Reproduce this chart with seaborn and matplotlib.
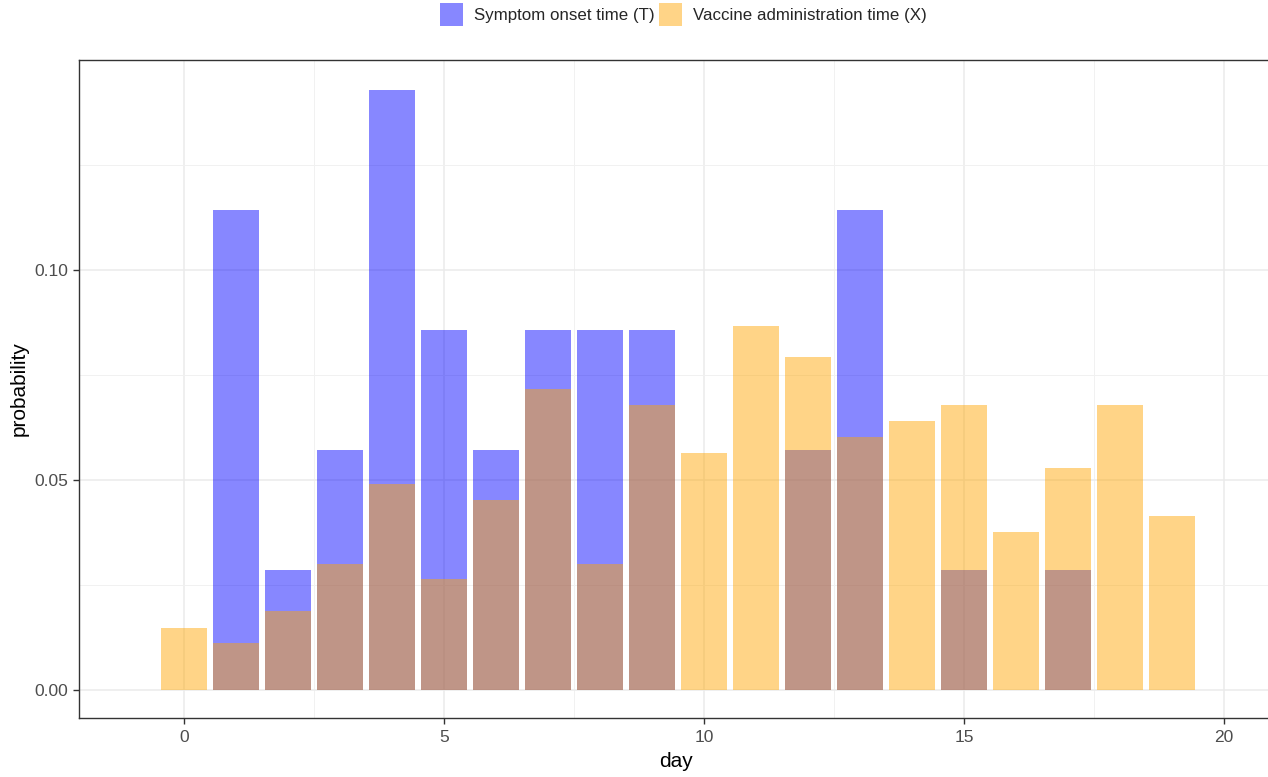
import matplotlib
matplotlib.use("Agg")
import matplotlib.pyplot as plt
import seaborn as sns
import pandas as pd
from matplotlib.patches import Patch
from matplotlib.ticker import MultipleLocator

# Data
days_T = [1, 2, 3, 4, 5, 6, 7, 8, 9, 12, 13, 15, 17]
prob_T = [0.1143, 0.0286, 0.0571, 0.1429, 0.0857, 0.0571, 0.0857, 0.0857,
          0.0857, 0.0571, 0.1143, 0.0286, 0.0286]

days_X = list(range(0, 20))
prob_X = [0.0148, 0.0112, 0.0188, 0.0300, 0.0490, 0.0264, 0.0452, 0.0717,
          0.0300, 0.0679, 0.0564, 0.0867, 0.0793, 0.0602, 0.0640, 0.0679,
          0.0376, 0.0529, 0.0679, 0.0414]

label_T = "Symptom onset time (T)"
label_X = "Vaccine administration time (X)"
color_T = "blue"
color_X = "orange"
alpha = 0.47

sns.set_theme(style="white")
plt.rcParams["font.family"] = ["Liberation Sans", "DejaVu Sans"]

fig = plt.figure(figsize=(12.68, 7.77), dpi=100)
ax = fig.add_axes([79 / 1268, 59 / 777, (1272 - 79) / 1268, (718 - 60) / 777])

df_T = pd.DataFrame({"day": days_T, "probability": prob_T})
df_X = pd.DataFrame({"day": days_X, "probability": prob_X})

sns.barplot(data=df_T, x="day", y="probability", native_scale=True, width=0.9,
            color=color_T, alpha=alpha, saturation=1, ax=ax, zorder=3)
sns.barplot(data=df_X, x="day", y="probability", native_scale=True, width=0.9,
            color=color_X, alpha=alpha, saturation=1, ax=ax, zorder=3)
for p in ax.patches:
    p.set_edgecolor("none")
    p.set_linewidth(0)

ax.set_xlim(-2.02, (1272 - 184) / 52)
ax.set_ylim(-0.00667, 0.15)

ax.xaxis.set_major_locator(MultipleLocator(5))
ax.xaxis.set_minor_locator(MultipleLocator(2.5))
ax.yaxis.set_major_locator(MultipleLocator(0.05))
ax.yaxis.set_minor_locator(MultipleLocator(0.025))
ax.set_yticks([0, 0.05, 0.10])
ax.set_yticklabels(["0.00", "0.05", "0.10"])
ax.set_xticks([0, 5, 10, 15, 20])
ax.set_xticklabels(["0", "5", "10", "15", "20"])

ax.grid(which="major", color="#EBEBEB", linewidth=1.1, zorder=0)
ax.grid(which="minor", color="#F1F1F1", linewidth=0.7, zorder=0)
ax.set_axisbelow(True)

for s in ax.spines.values():
    s.set_color("#333333")
    s.set_linewidth(1.0)
    s.set_visible(True)

ax.tick_params(which="major", length=4, width=1, color="#333333",
               labelsize=12.5, labelcolor="#4D4D4D", pad=3,
               bottom=True, left=True)
ax.tick_params(axis="x", which="major", pad=5)
ax.tick_params(axis="y", which="major", pad=4)
ax.tick_params(which="minor", length=0)

ax.set_xlabel("day", fontsize=15, color="black", labelpad=5)
ax.set_ylabel("probability", fontsize=15, color="black", labelpad=4)

handles = [Patch(facecolor=color_T, alpha=alpha, edgecolor="none", label=label_T),
           Patch(facecolor=color_X, alpha=alpha, edgecolor="none", label=label_X)]
fig.legend(handles=handles, loc="upper center", bbox_to_anchor=(0.539, 1.006),
           ncol=2, frameon=False, fontsize=12.2, handlelength=1.36,
           handleheight=1.75, handletextpad=0.65, columnspacing=0.3,
           borderaxespad=0.05)

fig.savefig("out.png", dpi=100)
